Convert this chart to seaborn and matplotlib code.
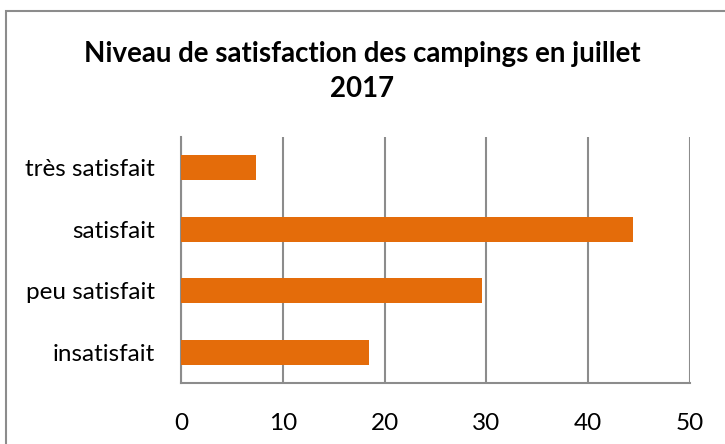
import matplotlib
matplotlib.use("Agg")
import matplotlib.pyplot as plt
import seaborn as sns
import pandas as pd
from matplotlib.patches import Rectangle

# données
categories = ["très satisfait", "satisfait", "peu satisfait", "insatisfait"]
valeurs = [7.4, 44.4, 29.6, 18.5]
ticks_x = [0, 10, 20, 30, 40, 50]

sns.set_theme(style="white")
plt.rcParams["font.family"] = ["Lato", "DejaVu Sans"]

df = pd.DataFrame({"categorie": categories, "valeur": valeurs})

fig = plt.figure(figsize=(7.25, 4.44), dpi=100)
ax = fig.add_axes([181 / 725, 1 - 383 / 444, (690 - 181) / 725, (383 - 137) / 444])

sns.barplot(data=df, x="valeur", y="categorie", orient="h",
            color="#E46C0A", saturation=1, width=0.4, linewidth=0,
            ax=ax, zorder=3)

ax.set_xlim(0, 50)
ax.set_ylim(3.5, -0.5)
ax.set_xticks(ticks_x)
ax.set_xticklabels([str(t) for t in ticks_x])
ax.set_xlabel("")
ax.set_ylabel("")
ax.grid(axis="x", color="#8c8c8c", linewidth=1.5, zorder=0)
ax.grid(axis="y", visible=False)

for s in ["top", "right"]:
    ax.spines[s].set_visible(False)
for s in ["left", "bottom"]:
    ax.spines[s].set_color("#8c8c8c")
    ax.spines[s].set_linewidth(1.5)

ax.tick_params(axis="x", length=0, pad=21.5, labelsize=17.5, labelcolor="#000000")
ax.tick_params(axis="y", length=0, pad=19, labelsize=17.5, labelcolor="#000000")

fig.text(0.5, 1 - 71.5 / 444, "Niveau de satisfaction des campings en juillet\n2017",
         ha="center", va="center", fontsize=19.9, fontweight="bold",
         linespacing=1.4, color="#000000")

# cadre du graphique
fig.patches.append(Rectangle((6 / 725, -0.1), 1.2, 1 - 11 / 444 + 0.1,
                             transform=fig.transFigure, fill=False,
                             edgecolor="#8c8c8c", linewidth=1.5))

fig.savefig("out.png", dpi=100)
